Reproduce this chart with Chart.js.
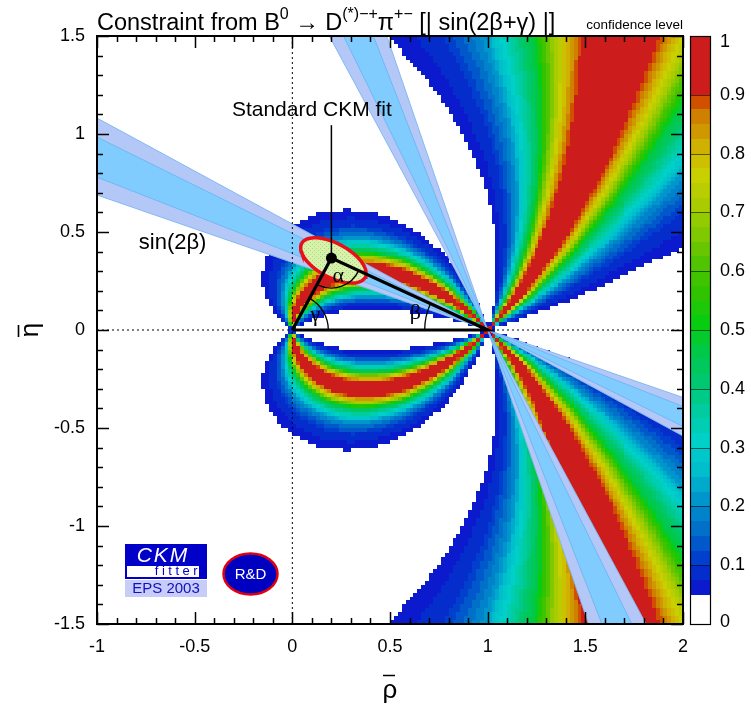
<!DOCTYPE html>
<html><head><meta charset="utf-8">
<script src="https://cdn.jsdelivr.net/npm/chart.js@4/dist/chart.umd.min.js"></script>
<style>html,body{margin:0;padding:0;background:#fff;}#wrap{width:751px;height:708px;position:relative;}</style>
</head><body><div id="wrap"><canvas id="c" width="751" height="708"></canvas></div>
<script>
// ---------------- data ----------------
const xTicks = [-1, -0.5, 0, 0.5, 1, 1.5, 2];
const yTicks = [-1.5, -1, -0.5, 0, 0.5, 1, 1.5];
const clTicks = [0, 0.1, 0.2, 0.3, 0.4, 0.5, 0.6, 0.7, 0.8, 0.9, 1];
// confidence level as a function of |sin(2beta+gamma)|
const sinValues = [0.56, 0.71, 0.78, 0.82, 0.85, 0.89, 0.93, 0.96, 0.975, 0.987, 1.0];
const clValues  = [0.05, 0.10, 0.16, 0.21, 0.28, 0.37, 0.48, 0.70, 0.80, 0.90, 1.0];
// sin(2beta) bands: beta edges in degrees (outer = 2 sigma, inner = 1 sigma)
const betaOuter = [19.0, 28.4];
const betaInner = [21.3, 26.2];
// unitarity triangle
const triRho = [0, 0.20, 1, 0];
const triEta = [0, 0.367, 0, 0];
// standard CKM fit ellipse: centre, semi-axes, tilt (deg)
const fitCentre = [0.21, 0.355];
const fitAxes = [0.184, 0.087];
const fitTilt = -28;
const fitLabelTop = 1.045;

// ---------------- helpers ----------------
const DEG = Math.PI / 180;
const FONT = '"Liberation Sans", Arial, sans-serif';
const SERIF = '"Liberation Serif", "Times New Roman", serif';
const paletteCL = [0.05,0.10,0.15,0.20,0.25,0.30,0.35,0.40,0.45,0.50,0.55,0.60,0.65,0.70,0.75,0.80,0.85,0.875,0.9];
const paletteRGB = [[10,26,204],[0,64,204],[0,112,200],[0,150,204],[0,190,204],[0,208,200],[0,204,160],[0,200,112],[0,200,72],[8,204,16],[48,196,0],[80,196,0],[128,200,0],[168,204,0],[200,208,0],[208,176,0],[208,128,0],[208,80,0],[204,28,28]];

function interp(xs, ys, v) {
  if (v <= xs[0]) return ys[0];
  for (let i = 1; i < xs.length; i++) {
    if (v <= xs[i]) { const t = (v - xs[i-1]) / (xs[i] - xs[i-1]); return ys[i-1] + t * (ys[i] - ys[i-1]); }
  }
  return ys[ys.length - 1];
}
function clAt(r, e) {
  const ae = Math.abs(e);
  const g = Math.atan2(ae, r);
  const b = Math.atan2(ae, 1 - r);
  const s = Math.abs(Math.sin(2 * b + g));
  if (s < sinValues[0]) return 0;
  return interp(sinValues, clValues, s);
}
function colourFor(cl) {
  if (cl >= 0.9) return 'rgb(204,28,28)';
  const q = Math.floor(cl / 0.025 + 1e-9) * 0.025;
  let i = 0;
  while (i < paletteCL.length - 2 && q > paletteCL[i+1]) i++;
  const t = Math.max(0, Math.min(1, (q - paletteCL[i]) / (paletteCL[i+1] - paletteCL[i])));
  const a = paletteRGB[i], b = paletteRGB[i+1];
  return 'rgb(' + [0,1,2].map(k => Math.round(a[k] + t * (b[k] - a[k]))).join(',') + ')';
}
function rayBand(b1, b2, comp) {
  const L = 4;
  const a1 = (comp ? 90 - b1 : b1) * DEG, a2 = (comp ? 90 - b2 : b2) * DEG;
  return [
    {x: 1, y: 0}, {x: 1 - L * Math.cos(a1), y: L * Math.sin(a1)}, {x: 1 - L * Math.cos(a2), y: L * Math.sin(a2)},
    {x: 1, y: 0}, {x: 1 + L * Math.cos(a1), y: -L * Math.sin(a1)}, {x: 1 + L * Math.cos(a2), y: -L * Math.sin(a2)},
    {x: 1, y: 0}
  ];
}
function ellipsePts() {
  const pts = [], c = Math.cos(fitTilt * DEG), s = Math.sin(fitTilt * DEG);
  for (let k = 0; k <= 72; k++) {
    const t = k / 72 * 2 * Math.PI;
    const u = fitAxes[0] * Math.cos(t), v = fitAxes[1] * Math.sin(t);
    pts.push({x: fitCentre[0] + u * c - v * s, y: fitCentre[1] + u * s + v * c});
  }
  return pts;
}

const canvas = document.getElementById('c');
const ctx0 = canvas.getContext('2d');
const pc = document.createElement('canvas'); pc.width = 4; pc.height = 4;
const pctx = pc.getContext('2d');
pctx.fillStyle = '#d8f2aa'; pctx.fillRect(0, 0, 4, 4);
pctx.fillStyle = '#a6d98a'; pctx.fillRect(0, 0, 1, 1); pctx.fillRect(2, 2, 1, 1);
const fitPattern = ctx0.createPattern(pc, 'repeat');

// ---------------- plugins ----------------
const heatmap = {
  id: 'clmap',
  beforeDatasetsDraw(chart) {
    const {ctx, chartArea: a, scales: {x, y}} = chart;
    ctx.save();
    ctx.beginPath(); ctx.rect(a.left, a.top, a.right - a.left, a.bottom - a.top); ctx.clip();
    const nx = 150, ny = 150;
    const dx = (x.max - x.min) / nx, dy = (y.max - y.min) / ny;
    for (let i = 0; i < nx; i++) {
      const x0 = Math.round(x.getPixelForValue(x.min + i * dx));
      const x1 = Math.round(x.getPixelForValue(x.min + (i + 1) * dx));
      for (let j = 0; j < ny; j++) {
        const cl = clAt(x.min + (i + 0.5) * dx, y.min + (j + 0.5) * dy);
        if (cl < 0.05) continue;
        const y0 = Math.round(y.getPixelForValue(y.min + j * dy));
        const y1 = Math.round(y.getPixelForValue(y.min + (j + 1) * dy));
        ctx.fillStyle = colourFor(cl);
        ctx.fillRect(x0, y1, x1 - x0, y0 - y1);
      }
    }
    ctx.restore();
  }
};

const annotations = {
  id: 'annot',
  afterDatasetsDraw(chart) {
    const {ctx, scales: {x, y}} = chart;
    const P = (r, e) => [x.getPixelForValue(r), y.getPixelForValue(e)];
    const O = P(triRho[0], triEta[0]), A = P(triRho[1], triEta[1]), B = P(triRho[2], triEta[2]);
    ctx.save();
    ctx.strokeStyle = '#000'; ctx.lineWidth = 1.3;
    const angA = Math.atan2(A[1] - O[1], A[0] - O[0]);
    ctx.beginPath(); ctx.arc(O[0], O[1], 36, angA, 0); ctx.stroke();
    const angB = Math.atan2(A[1] - B[1], A[0] - B[0]);
    ctx.beginPath(); ctx.arc(B[0], B[1], 63, Math.PI, angB + 2 * Math.PI); ctx.stroke();
    const a1 = Math.atan2(B[1] - A[1], B[0] - A[0]), a2 = Math.atan2(O[1] - A[1], O[0] - A[0]);
    ctx.beginPath(); ctx.arc(A[0], A[1], 30, a1, a2); ctx.stroke();
    ctx.fillStyle = '#000'; ctx.textAlign = 'center'; ctx.textBaseline = 'middle';
    ctx.font = '22px ' + SERIF;
    let p = P(0.118, 0.077); ctx.fillText('γ', p[0], p[1]);
    p = P(0.63, 0.085); ctx.fillText('β', p[0], p[1]);
    p = P(0.235, 0.272); ctx.fillText('α', p[0], p[1]);
    ctx.font = '21px ' + FONT;
    p = P(0.1, 1.12); ctx.fillText('Standard CKM fit', p[0], p[1]);
    ctx.font = '22px ' + FONT;
    p = P(-0.613, 0.444); ctx.fillText('sin(2β)', p[0], p[1]);
    ctx.restore();
  },
  afterDraw(chart) {
    const {ctx, chartArea: a, scales: {x, y}} = chart;
    ctx.save();
    // frame with inward ticks
    ctx.strokeStyle = '#000'; ctx.lineWidth = 2;
    ctx.strokeRect(a.left, a.top, a.right - a.left, a.bottom - a.top);
    ctx.lineWidth = 1.5;
    ctx.beginPath();
    for (let k = 0; k <= 30; k++) {
      const v = x.min + k * 0.1, px = Math.round(x.getPixelForValue(v)) + 0.5;
      const L = (k % 5 === 0) ? 12 : 6;
      ctx.moveTo(px, a.bottom); ctx.lineTo(px, a.bottom - L);
      ctx.moveTo(px, a.top); ctx.lineTo(px, a.top + L);
      const vy = y.min + k * 0.1, py = Math.round(y.getPixelForValue(vy)) + 0.5;
      ctx.moveTo(a.left, py); ctx.lineTo(a.left + L, py);
      ctx.moveTo(a.right, py); ctx.lineTo(a.right - L, py);
    }
    ctx.stroke();

    // macrons over the axis-title letters
    ctx.lineWidth = 1.6; ctx.beginPath();
    const xc = (a.left + a.right) / 2 - 1;
    ctx.moveTo(xc - 6, 675.5); ctx.lineTo(xc + 6, 675.5);
    const yc0 = (a.top + a.bottom) / 2 + 1;
    ctx.moveTo(18.5, yc0 - 6); ctx.lineTo(18.5, yc0 + 6);
    ctx.stroke();

    // colour bar
    const cbL = 690, cbW = 20, top = a.top, bot = a.bottom;
    const yc = v => bot - v * (bot - top);
    for (let v = 0.05; v < 0.999; v += 0.025) {
      const ya = Math.round(yc(v + 0.025)), yb = Math.round(yc(v));
      ctx.fillStyle = colourFor(v + 0.001);
      ctx.fillRect(cbL, ya, cbW, yb - ya);
    }
    ctx.strokeStyle = 'rgba(0,0,0,0.55)'; ctx.lineWidth = 1;
    ctx.beginPath();
    clTicks.forEach(v => { const py = Math.round(yc(v)) + 0.5; ctx.moveTo(cbL, py); ctx.lineTo(cbL + cbW, py); });
    ctx.stroke();
    ctx.strokeStyle = '#000'; ctx.lineWidth = 1.2;
    ctx.strokeRect(cbL + 0.5, top + 0.5, cbW, bot - top);
    ctx.fillStyle = '#000'; ctx.font = '18px ' + FONT; ctx.textAlign = 'left'; ctx.textBaseline = 'middle';
    clTicks.forEach(v => ctx.fillText(String(v), 720, yc(v) + (v === 1 ? 6 : v === 0 ? -2 : 0)));

    // title
    ctx.textBaseline = 'alphabetic'; ctx.textAlign = 'left';
    const parts = [
      {t: 'Constraint from B'}, {t: '0', s: 1}, {t: ' → D'}, {t: '(*)−+', s: 1}, {t: 'π'}, {t: '+−', s: 1},
      {t: ' [| sin(2β+γ) |]'}
    ];
    let tx = 97;
    parts.forEach(pt => {
      ctx.font = (pt.s ? '16px ' : '23.5px ') + FONT;
      ctx.fillText(pt.t, tx, pt.s ? 19 : 30);
      tx += ctx.measureText(pt.t).width;
    });
    ctx.font = '13.5px ' + FONT; ctx.textAlign = 'right';
    ctx.fillText('confidence level', 683, 29);

    // CKMfitter logo
    ctx.textAlign = 'center'; ctx.textBaseline = 'middle';
    ctx.fillStyle = '#0000c8'; ctx.fillRect(125, 544, 82, 35);
    ctx.fillStyle = '#ffffff'; ctx.fillRect(127, 566, 72, 11);
    ctx.fillStyle = '#c8ccf8'; ctx.fillRect(125, 580, 82, 17);
    ctx.fillStyle = '#ffffff'; ctx.font = 'italic 21px ' + FONT;
    ctx.letterSpacing = '2px';
    ctx.fillText('CKM', 163, 556);
    ctx.fillStyle = '#0000c8'; ctx.font = '13px ' + FONT; ctx.letterSpacing = '3.5px';
    ctx.fillText('fitter', 178, 571);
    ctx.letterSpacing = '0px';
    ctx.fillStyle = '#1010c0'; ctx.font = '15px ' + FONT;
    ctx.fillText('EPS 2003', 166, 589);
    // R&D logo
    ctx.beginPath(); ctx.ellipse(250.5, 574, 27, 20.5, 0, 0, 2 * Math.PI);
    ctx.fillStyle = '#0000c0'; ctx.fill();
    ctx.strokeStyle = '#e00010'; ctx.lineWidth = 2.5; ctx.stroke();
    ctx.fillStyle = '#ffffff'; ctx.font = '15px ' + FONT;
    ctx.fillText('R&D', 250.5, 575);
    ctx.restore();
  }
};

// ---------------- datasets ----------------
const line = (data, extra) => Object.assign({data, showLine: true, pointRadius: 0, tension: 0, fill: false}, extra);
const datasets = [
  line([{x: triRho[1], y: triEta[1]}], {pointRadius: 5.5, pointBackgroundColor: '#000', pointBorderWidth: 0, showLine: false, order: 0}),
  line(triRho.map((r, i) => ({x: r, y: triEta[i]})), {borderColor: '#000', borderWidth: 3.2, order: 1}),
  line([{x: triRho[1], y: triEta[1]}, {x: triRho[1], y: fitLabelTop}], {borderColor: '#000', borderWidth: 1.5, order: 2}),
  line(ellipsePts(), {borderColor: '#e8101a', borderWidth: 3.5, fill: 'shape', backgroundColor: fitPattern, order: 3}),
  line([{x: 0, y: -1.5}, {x: 0, y: 1.5}], {borderColor: '#000', borderWidth: 1, borderDash: [2, 3], order: 4}),
  line([{x: -1, y: 0}, {x: 2, y: 0}], {borderColor: '#000', borderWidth: 1, borderDash: [2, 3], order: 4}),
  line(rayBand(betaInner[0], betaInner[1], true), {borderColor: '#72b6f2', borderWidth: 1, fill: 'shape', backgroundColor: '#80ccff', order: 5}),
  line(rayBand(betaOuter[0], betaOuter[1], true), {borderColor: '#84b8f2', borderWidth: 1, fill: 'shape', backgroundColor: '#b4c8f8', order: 6}),
  line(rayBand(betaInner[0], betaInner[1], false), {borderColor: '#72b6f2', borderWidth: 1, fill: 'shape', backgroundColor: '#80ccff', order: 7}),
  line(rayBand(betaOuter[0], betaOuter[1], false), {borderColor: '#84b8f2', borderWidth: 1, fill: 'shape', backgroundColor: '#b4c8f8', order: 8})
];

new Chart(canvas, {
  type: 'scatter',
  data: {datasets},
  options: {
    responsive: false, animation: false, devicePixelRatio: 1,
    layout: {padding: {left: 0, right: 68, top: 36, bottom: 0}},
    plugins: {legend: {display: false}, tooltip: {enabled: false}},
    scales: {
      x: {
        type: 'linear', min: -1, max: 2,
        afterBuildTicks: s => { s.ticks = xTicks.map(v => ({value: v})); },
        afterFit: s => { s.height = 84; },
        grid: {display: false, drawTicks: false}, border: {display: false},
        ticks: {padding: 12, color: '#000', font: {family: FONT, size: 18}, maxRotation: 0, autoSkip: false, callback: v => String(v)},
        title: {display: true, text: 'ρ', color: '#000', font: {family: FONT, size: 26}, padding: {top: 0, bottom: 2}}
      },
      y: {
        type: 'linear', min: -1.5, max: 1.5,
        afterBuildTicks: s => { s.ticks = yTicks.map(v => ({value: v})); },
        afterFit: s => { s.width = 97; },
        grid: {display: false, drawTicks: false}, border: {display: false},
        ticks: {padding: 12, color: '#000', font: {family: FONT, size: 18}, autoSkip: false, callback: v => String(v)},
        title: {display: true, text: 'η', color: '#000', font: {family: FONT, size: 26}, padding: {top: 15, bottom: 0}}
      }
    }
  },
  plugins: [heatmap, annotations]
});
</script></body></html>
